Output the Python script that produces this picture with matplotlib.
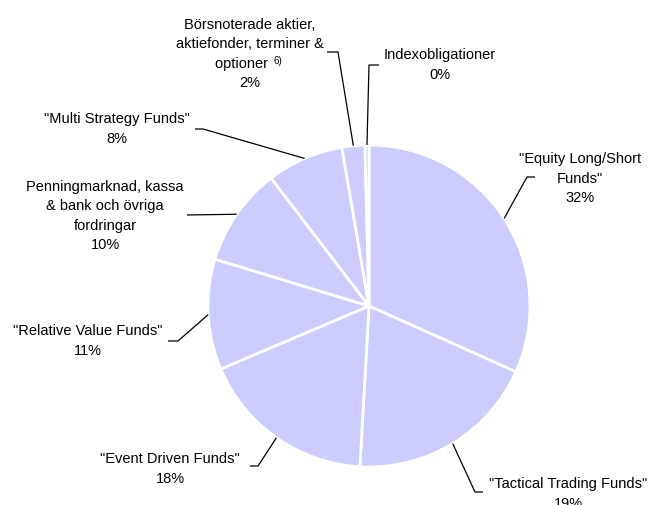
import numpy as np
import matplotlib
matplotlib.use("Agg")
import matplotlib.pyplot as plt

plt.rcParams["font.family"] = ["Liberation Sans", "DejaVu Sans"]

# ===============================
#   DATA
# ===============================
labels = [
    '"Equity Long/Short\nFunds"',
    '"Tactical Trading Funds"',
    '"Event Driven Funds"',
    '"Relative Value Funds"',
    "Penningmarknad, kassa\n& bank och övriga\nfordringar",
    '"Multi Strategy Funds"',
    "Börsnoterade aktier,\naktiefonder, terminer &\noptioner    ",
    "Indexobligationer",
]
values = [31.7, 19.2, 17.7, 11.1, 9.9, 7.7, 2.3, 0.4]
pct_text = ["32%", "19%", "18%", "11%", "10%", "8%", "2%", "0%"]

# label layout in pixels: elbow, line end, text centre
elbows = [(527, 178), (475, 493), (258, 467), (178, 342), (187, 216), (203, 130), (338, 53), (369, 66)]
ends = [(535, 178), (483, 493), (250, 467), (168, 342), (187, 216), (195, 130), (327, 53), (379, 66)]
text_pos = [(580, 179), (568, 494), (170, 469), (88, 341), (105, 216), (117, 129), (250, 54), (440, 65)]

W, H = 663, 506
cx, cy, R = 369, 307, 161


def px(x, y):
    return (x - cx) / R, (cy - y) / R


fig = plt.figure(figsize=(W / 100, H / 100), dpi=100)
ax = fig.add_axes([0, 0, 1, 1])

wedges, _ = ax.pie(
    values,
    startangle=90,
    counterclock=False,
    colors=["#CCCCFF"] * len(values),
    radius=1,
    wedgeprops=dict(edgecolor="white", linewidth=2),
)

ax.set_xlim(-cx / R, (W - cx) / R)
ax.set_ylim(-(H - cy) / R, cy / R)
ax.set_aspect("equal")
ax.axis("off")

for w, lab, pct, el, en, tp in zip(wedges, labels, pct_text, elbows, ends, text_pos):
    ang = np.deg2rad((w.theta1 + w.theta2) / 2)
    x0, y0 = np.cos(ang), np.sin(ang)
    ex, ey = px(*el)
    nx, ny = px(*en)
    ax.plot([x0, ex, nx], [y0, ey, ny], color="black", lw=0.9, solid_capstyle="butt")
    tx, ty = px(*tp)
    ax.text(tx, ty, lab + "\n" + pct, ha="center", va="center", multialignment="center",
            fontsize=10.5, linespacing=1.5, color="black")

# footnote marker after "optioner"
fx, fy = px(274, 61)
ax.text(fx, fy, "6)", ha="left", va="center", fontsize=7, color="black")

plt.savefig("out.png", dpi=100)
plt.close()
